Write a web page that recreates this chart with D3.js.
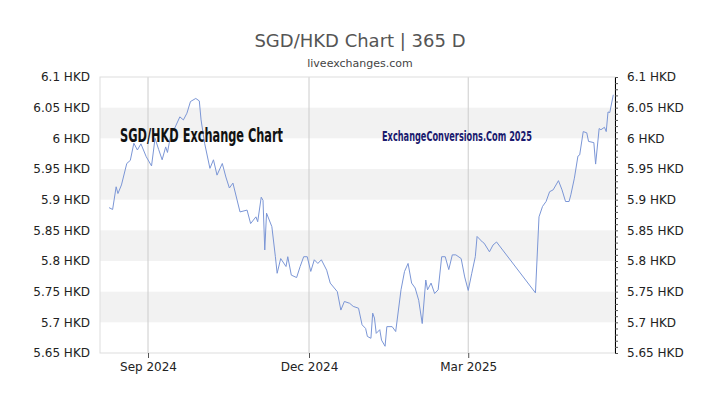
<!DOCTYPE html>
<html><head><meta charset="utf-8">
<script src="https://cdn.jsdelivr.net/npm/d3@7"></script>
<style>body{margin:0;background:#fff}svg{font-family:"DejaVu Sans",sans-serif}</style>
</head><body><svg id="c" width="720" height="405"></svg>
<script>
const dates = ["2024-08-10","2024-08-12","2024-08-14","2024-08-15","2024-08-17","2024-08-20","2024-08-22","2024-08-24","2024-08-26","2024-08-28","2024-08-31","2024-09-03","2024-09-05","2024-09-07","2024-09-09","2024-09-11","2024-09-12","2024-09-14","2024-09-16","2024-09-19","2024-09-21","2024-09-23","2024-09-25","2024-09-28","2024-09-30","2024-10-01","2024-10-03","2024-10-06","2024-10-08","2024-10-10","2024-10-13","2024-10-15","2024-10-17","2024-10-19","2024-10-23","2024-10-27","2024-10-29","2024-11-01","2024-11-02","2024-11-04","2024-11-05","2024-11-06","2024-11-07","2024-11-10","2024-11-12","2024-11-13","2024-11-15","2024-11-18","2024-11-19","2024-11-21","2024-11-24","2024-11-26","2024-11-28","2024-11-30","2024-12-02","2024-12-04","2024-12-06","2024-12-08","2024-12-11","2024-12-13","2024-12-17","2024-12-19","2024-12-21","2024-12-24","2024-12-26","2024-12-29","2024-12-31","2025-01-02","2025-01-03","2025-01-05","2025-01-06","2025-01-07","2025-01-08","2025-01-10","2025-01-11","2025-01-13","2025-01-14","2025-01-17","2025-01-19","2025-01-22","2025-01-24","2025-01-26","2025-01-28","2025-01-30","2025-02-01","2025-02-03","2025-02-05","2025-02-06","2025-02-08","2025-02-10","2025-02-12","2025-02-14","2025-02-16","2025-02-18","2025-02-20","2025-02-22","2025-02-25","2025-02-27","2025-03-01","2025-03-03","2025-03-05","2025-03-06","2025-03-09","2025-03-10","2025-03-13","2025-03-15","2025-03-17","2025-04-08","2025-04-10","2025-04-12","2025-04-14","2025-04-16","2025-04-18","2025-04-21","2025-04-23","2025-04-25","2025-04-27","2025-04-28","2025-04-30","2025-05-02","2025-05-03","2025-05-05","2025-05-07","2025-05-08","2025-05-11","2025-05-12","2025-05-14","2025-05-15","2025-05-17","2025-05-18","2025-05-19","2025-05-20","2025-05-22"];
const rates = [5.887,5.884,5.921,5.910,5.924,5.959,5.964,5.992,5.981,5.991,5.970,5.955,6.000,5.982,5.965,5.986,5.977,6.008,6.016,6.035,6.030,6.041,6.060,6.065,6.061,6.030,5.992,5.951,5.965,5.940,5.959,5.937,5.919,5.927,5.880,5.883,5.861,5.872,5.864,5.904,5.899,5.818,5.878,5.856,5.807,5.780,5.804,5.791,5.807,5.777,5.773,5.791,5.807,5.807,5.783,5.802,5.796,5.802,5.785,5.764,5.750,5.720,5.734,5.731,5.726,5.723,5.696,5.690,5.677,5.674,5.715,5.707,5.682,5.688,5.671,5.661,5.693,5.693,5.685,5.753,5.783,5.796,5.764,5.756,5.736,5.698,5.769,5.753,5.764,5.747,5.753,5.807,5.807,5.786,5.810,5.810,5.804,5.774,5.752,5.780,5.807,5.840,5.831,5.829,5.815,5.826,5.831,5.748,5.872,5.889,5.897,5.913,5.916,5.931,5.916,5.897,5.897,5.908,5.935,5.971,5.973,6.011,6.009,5.995,5.993,5.958,6.016,6.014,6.018,6.011,6.043,6.042,6.071];
const yTicks = [5.65,5.7,5.75,5.8,5.85,5.9,5.95,6,6.05,6.1];
const xTickDates = ["2024-09-01","2024-12-01","2025-03-01"];
const xTickLabels = ["Sep 2024","Dec 2024","Mar 2025"];

const svg = d3.select("#c");
const L=100,R=615,T=77,B=353;
const parse=d3.utcParse("%Y-%m-%d");
const data=dates.map((d,i)=>({d:parse(d),v:rates[i]}));
const x0=parse("2024-09-01"), x1=parse("2024-12-01");
const x=d3.scaleUtc().domain([ new Date(+x0 - (148-L)*(x1-x0)/(309-148)), new Date(+x0 + (R-148)*(x1-x0)/(309-148)) ]).range([L,R]);
const y=d3.scaleLinear().domain([5.65,6.1]).range([B,T]);

for(let i=0;i<yTicks.length-1;i++){
  if(i%2==1) svg.append("rect").attr("x",L).attr("width",R-L).attr("y",y(yTicks[i+1])).attr("height",y(yTicks[i])-y(yTicks[i+1])).attr("fill","#f2f2f2");
}
xTickDates.forEach(d=>svg.append("line").attr("x1",x(parse(d))).attr("x2",x(parse(d))).attr("y1",T).attr("y2",B).attr("stroke","#ccc"));
svg.append("rect").attr("x",L).attr("y",T).attr("width",R-L).attr("height",B-T).attr("fill","none").attr("stroke","#ddd");

const fmt=d=>d3.format("")(+d.toFixed(2))+" HKD";
const la=svg.append("g").attr("transform",`translate(${L},0)`).call(d3.axisLeft(y).tickValues(yTicks).tickSize(0).tickPadding(10).tickFormat(fmt));
const ra=svg.append("g").attr("transform",`translate(${R},0)`).call(d3.axisRight(y).tickValues(yTicks).tickSize(0).tickPadding(12).tickFormat(fmt));
const minor=d3.range(0,46).map(i=>5.65+i*0.01);
svg.append("g").attr("transform",`translate(${R},0)`).call(d3.axisRight(y).tickValues(minor).tickSize(3).tickFormat(""));
const xa=svg.append("g").attr("transform",`translate(0,${B})`).call(d3.axisBottom(x).tickValues(xTickDates.map(parse)).tickSize(5).tickPadding(4).tickFormat((d,i)=>xTickLabels[i]));
[la,ra,xa].forEach(g=>{g.select(".domain").remove();g.selectAll("text").attr("font-size",12).attr("fill","#222").attr("font-family","DejaVu Sans");});
svg.selectAll(".tick line").attr("stroke","#555");

svg.append("path").datum(data).attr("fill","none").attr("stroke","#7b96d6").attr("stroke-width",1)
  .attr("d",d3.line().x(d=>x(d.d)).y(d=>y(d.v)));

svg.append("text").attr("x",360).attr("y",47).attr("text-anchor","middle").attr("font-size",18).attr("fill","#555").text("SGD/HKD Chart | 365 D");
svg.append("text").attr("x",360).attr("y",67).attr("text-anchor","middle").attr("font-size",11).attr("fill","#444").text("liveexchanges.com");
svg.append("text").attr("x",120).attr("y",142).attr("font-family","DejaVu Sans Condensed").attr("font-weight","bold").attr("font-size",19)
  .attr("textLength",163).attr("lengthAdjust","spacingAndGlyphs").attr("fill","#111").text("SGD/HKD Exchange Chart");
svg.append("text").attr("x",382).attr("y",141).attr("font-family","DejaVu Sans Condensed").attr("font-weight","bold").attr("font-size",14)
  .attr("textLength",150).attr("lengthAdjust","spacingAndGlyphs").attr("fill","#1a1a6e").text("ExchangeConversions.Com 2025");
</script></body></html>
